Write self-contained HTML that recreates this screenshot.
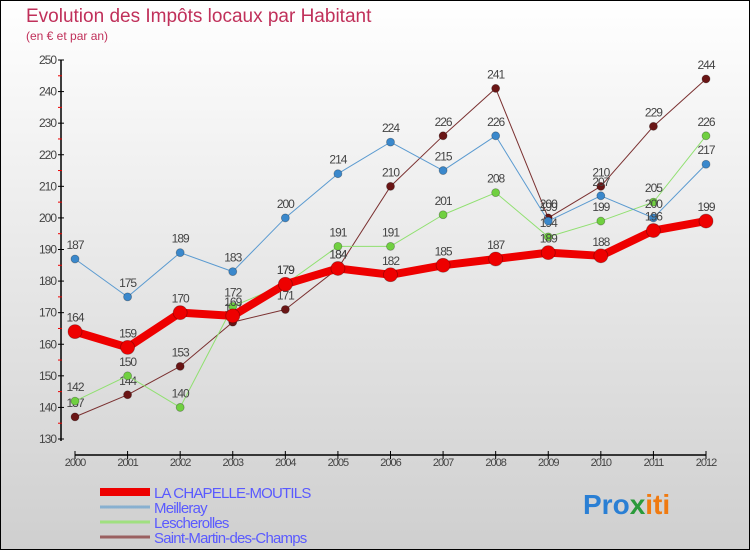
<!DOCTYPE html>
<html><head><meta charset="utf-8"><style>
body{margin:0;width:750px;height:550px;overflow:hidden}
svg{display:block;font-family:"Liberation Sans",sans-serif}
</style></head><body>
<svg width="750" height="550" id="chart">
<defs><linearGradient id="bg" x1="0" y1="0" x2="0" y2="1"><stop offset="0" stop-color="#ffffff"/><stop offset="1" stop-color="#cfcfcf"/></linearGradient></defs>
<rect x="0.5" y="0.5" width="749" height="549" fill="url(#bg)" stroke="#000"/>
<text x="26" y="22" font-size="19" fill="#c0305a">Evolution des Impôts locaux par Habitant</text>
<text x="26" y="40" font-size="12" fill="#c0305a">(en € et par an)</text>
<g id="axes"></g>
<g id="series"></g>
<g id="legend"></g>
<text x="583" y="514" font-size="28" font-weight="bold"><tspan fill="#2a7fd4">Pro</tspan><tspan fill="#2a9a3a">x</tspan><tspan fill="#f07a10">iti</tspan></text>
</svg>
<script>
const years=[2000,2001,2002,2003,2004,2005,2006,2007,2008,2009,2010,2011,2012];
const yTicks=[130,140,150,160,170,180,190,200,210,220,230,240,250];
const chapelle=[164,159,170,169,179,184,182,185,187,189,188,196,199];
const meilleray=[187,175,189,183,200,214,224,215,226,199,207,200,217];
const lescherolles=[142,150,140,172,179,191,191,201,208,194,199,205,226];
const saintMartin=[137,144,153,167,171,184,210,226,241,200,210,229,244];
const NS="http://www.w3.org/2000/svg";
const xS=i=>75+i*(706-75)/(years.length-1);
const yS=v=>60+(250-v)*(439-60)/120;
function mk(t,a,p){const e=document.createElementNS(NS,t);for(const k in a)e.setAttribute(k,a[k]);p.appendChild(e);return e;}
const ax=document.getElementById('axes');
let yl=mk('line',{x1:61,y1:60,x2:61,y2:441,stroke:'#000','stroke-width':1.5},ax);


let xl=mk('line',{x1:75,y1:455,x2:706,y2:455,stroke:'#000','stroke-width':1.5},ax);


yTicks.forEach((v,i)=>{
 mk('line',{x1:58,x2:64,y1:yS(v),y2:yS(v),stroke:'#000'},ax);
 if(i<yTicks.length-1)mk('line',{x1:58,x2:62,y1:yS(v+5),y2:yS(v+5),stroke:'#e00'},ax);
 const t=mk('text',{x:56,y:yS(v)+4,'font-size':12,'text-anchor':'end',fill:'#444','letter-spacing':'-1'},ax);
 t.textContent=v;
 
 
});
years.forEach((y,i)=>{
 mk('line',{x1:xS(i),x2:xS(i),y1:451,y2:459,stroke:'#000'},ax);
 const t=mk('text',{x:xS(i),y:466,'font-size':11,'text-anchor':'middle',fill:'#444','letter-spacing':'-1'},ax);
 t.textContent=y;
 
 
});
const sg=document.getElementById('series');
function draw(vals,color,dot,w,r,name){
 const g=mk('g',{},sg);
 
 
 mk('polyline',{points:vals.map((v,i)=>xS(i)+','+yS(v)).join(' '),fill:'none',stroke:color,'stroke-width':w,'stroke-linejoin':'round'},g);
 vals.forEach((v,i)=>{
  const c=mk('circle',{cx:xS(i),cy:yS(v),r:r,fill:dot,stroke:'rgba(0,0,0,0.3)','stroke-width':0.8},g);
  
  
  const t=mk('text',{x:xS(i),y:yS(v)-10,'font-size':12,'text-anchor':'middle',fill:'#444','letter-spacing':'-1'},g);
  t.textContent=v;
  
  
 });
}
draw(saintMartin,'#7a3030','#6a1515',1,4,'saint-martin-series');
draw(lescherolles,'#90e070','#70d040',1,4,'lescherolles-series');
draw(meilleray,'#5a9ad0','#3a88cc',1,4,'meilleray-series');
draw(chapelle,'#ee0000','#ee0000',8,7,'chapelle-series');
const lg=document.getElementById('legend');
[['LA CHAPELLE-MOUTILS','#ee0000',8],['Meilleray','#88b0d0',3],['Lescherolles','#a0e080',3],['Saint-Martin-des-Champs','#9a6060',3]].forEach((d,i)=>{
 const y=492+i*15;
 mk('line',{x1:100,x2:150,y1:y,y2:y,stroke:d[1],'stroke-width':d[2]},lg);
 const t=mk('text',{x:154,y:y+6,'font-size':15,fill:'#5a5aff','letter-spacing':'-0.8'},lg);
 t.textContent=d[0];
 
 
});
</script>
</body></html>
